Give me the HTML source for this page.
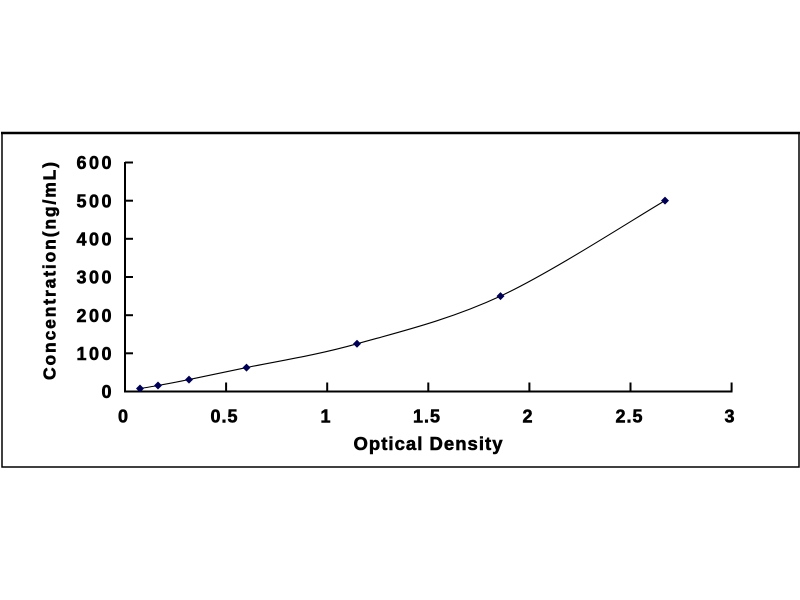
<!DOCTYPE html>
<html>
<head>
<meta charset="utf-8">
<style>
html,body{margin:0;padding:0;background:#fff;}
svg{display:block;}
text{font-family:"Liberation Sans",Arial,sans-serif;font-weight:bold;fill:#000;stroke:#000;stroke-width:0.55px;}
</style>
</head>
<body>
<svg width="800" height="600" viewBox="0 0 800 600" xmlns="http://www.w3.org/2000/svg">
<rect x="0" y="0" width="800" height="600" fill="#fff"/>
<!-- outer border -->
<rect x="2" y="133" width="797" height="334" fill="none" stroke="#000" stroke-width="1.5"/>
<line x1="1" y1="133" x2="800" y2="133" stroke="#000" stroke-width="2.5"/>

<!-- axes -->
<line x1="125" y1="162" x2="125" y2="392.5" stroke="#000" stroke-width="2"/>
<line x1="124" y1="391.5" x2="732.5" y2="391.5" stroke="#000" stroke-width="2"/>

<!-- y ticks -->
<g stroke="#000" stroke-width="2">
<line x1="125" y1="162.5" x2="133" y2="162.5"/>
<line x1="125" y1="200.7" x2="133" y2="200.7"/>
<line x1="125" y1="238.8" x2="133" y2="238.8"/>
<line x1="125" y1="277" x2="133" y2="277"/>
<line x1="125" y1="315.2" x2="133" y2="315.2"/>
<line x1="125" y1="353.3" x2="133" y2="353.3"/>
</g>
<!-- x ticks -->
<g stroke="#000" stroke-width="2">
<line x1="226.1" y1="382.5" x2="226.1" y2="391.5"/>
<line x1="327.2" y1="382.5" x2="327.2" y2="391.5"/>
<line x1="428.3" y1="382.5" x2="428.3" y2="391.5"/>
<line x1="529.4" y1="382.5" x2="529.4" y2="391.5"/>
<line x1="630.5" y1="382.5" x2="630.5" y2="391.5"/>
<line x1="731.6" y1="382.5" x2="731.6" y2="391.5"/>
</g>

<!-- y tick labels -->
<g font-size="18" text-anchor="end">
<text x="111.5" y="169.2" textLength="35" lengthAdjust="spacing">600</text>
<text x="111.5" y="207.4" textLength="35" lengthAdjust="spacing">500</text>
<text x="111.5" y="245.5" textLength="35" lengthAdjust="spacing">400</text>
<text x="111.5" y="283.7" textLength="35" lengthAdjust="spacing">300</text>
<text x="111.5" y="321.9" textLength="35" lengthAdjust="spacing">200</text>
<text x="111.5" y="360" textLength="35" lengthAdjust="spacing">100</text>
<text x="111.5" y="398.2">0</text>
</g>

<!-- x tick labels -->
<g font-size="18" text-anchor="middle">
<text x="123" y="422.5">0</text>
<text x="224" y="422.5" textLength="27" lengthAdjust="spacing">0.5</text>
<text x="325.5" y="422.5">1</text>
<text x="426.5" y="422.5" textLength="27" lengthAdjust="spacing">1.5</text>
<text x="527.5" y="422.5">2</text>
<text x="629" y="422.5" textLength="27" lengthAdjust="spacing">2.5</text>
<text x="729.5" y="422.5">3</text>
</g>

<!-- axis titles -->
<text x="353.5" y="450" font-size="18.5" textLength="149" lengthAdjust="spacing">Optical Density</text>
<text transform="translate(55.5,380) rotate(-90)" x="0" y="0" font-size="17.5" textLength="218" lengthAdjust="spacing">Concentration(ng/mL)</text>

<!-- curve -->
<path d="M140,388.5 C143,388.0 149.83,386.98 158,385.5 C166.17,384.02 174.25,382.58 189,379.6 C203.75,376.62 218.5,373.57 246.5,367.6 C274.5,361.63 314.67,355.72 357,343.8 C399.33,331.88 449.17,319.97 500.5,296.1 C551.83,272.23 637.58,216.52 665,200.6" fill="none" stroke="#000" stroke-width="1.1"/>

<!-- markers -->
<g fill="#000050">
<path d="M140,384.5 L144,388.5 L140,392.5 L136,388.5 Z"/>
<path d="M158,381.5 L162,385.5 L158,389.5 L154,385.5 Z"/>
<path d="M189,375.6 L193,379.6 L189,383.6 L185,379.6 Z"/>
<path d="M246.5,363.6 L250.5,367.6 L246.5,371.6 L242.5,367.6 Z"/>
<path d="M357,339.8 L361,343.8 L357,347.8 L353,343.8 Z"/>
<path d="M500.5,292.1 L504.5,296.1 L500.5,300.1 L496.5,296.1 Z"/>
<path d="M665,196.6 L669,200.6 L665,204.6 L661,200.6 Z"/>
</g>
</svg>
</body>
</html>
